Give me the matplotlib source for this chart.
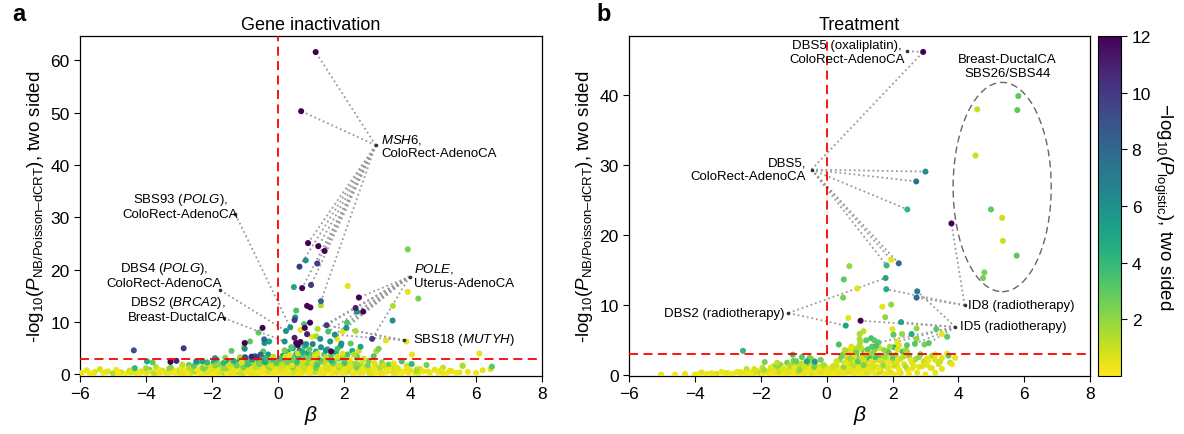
import numpy as np
import matplotlib
matplotlib.use("Agg")
import matplotlib.pyplot as plt
from matplotlib.patches import Ellipse

plt.rcParams["font.family"] = ["Liberation Sans", "DejaVu Sans"]
plt.rcParams["mathtext.fontset"] = "custom"
plt.rcParams["mathtext.rm"] = "Liberation Sans"
plt.rcParams["mathtext.it"] = "Liberation Sans:italic"
plt.rcParams["mathtext.bf"] = "Liberation Sans:bold"

# ── data: (beta, -log10 P, -log10 P_logistic) ───────────────────────────
# panel a, points clearly above the background
A_HITS = [
    (1.14, 61.6, 12), (0.70, 50.3, 12), (0.91, 25.1, 12), (1.22, 24.5, 12), (1.41, 23.6, 12),
    (0.84, 21.8, 6), (0.65, 20.6, 10), (1.19, 21.2, 10), (3.93, 23.9, 2.5), (0.48, 16.7, 5),
    (0.73, 16.5, 12), (1.00, 17.1, 10), (2.11, 16.9, 0.5), (3.93, 15.8, 0.5), (4.25, 14.5, 2.5),
    (2.45, 14.7, 12), (1.30, 14.0, 8), (0.88, 13.1, 12), (0.98, 12.8, 12), (1.30, 13.2, 1.5),
    (2.35, 12.7, 11), (2.58, 12.0, 12), (2.39, 12.0, 6), (3.48, 13.1, 1.5), (3.47, 10.3, 6),
    (0.55, 12.2, 3.5), (0.52, 10.9, 6), (0.50, 10.4, 10), (0.79, 9.6, 3.5), (0.97, 9.9, 12),
    (0.81, 8.9, 12), (0.37, 9.0, 6), (0.24, 8.3, 6), (1.47, 9.4, 10), (1.20, 8.7, 1.5),
    (2.09, 9.9, 3.5), (2.07, 8.9, 6), (2.35, 8.3, 1.5), (1.96, 8.2, 0.5), (1.52, 8.2, 3.5),
    (0.68, 8.5, 0.5), (0.88, 7.7, 11), (1.72, 7.6, 6), (2.85, 6.8, 10), (3.27, 6.5, 0.5),
    (3.89, 6.3, 0.5), (2.98, 4.5, 1.5), (3.05, 4.9, 2.5), (0.55, 6.0, 12), (0.68, 6.2, 12),
    (0.60, 5.6, 12), (0.50, 7.0, 11), (0.20, 6.3, 6), (0.40, 5.2, 3), (0.85, 5.8, 6),
    (1.03, 7.2, 0.5), (1.16, 7.3, 1.5), (1.28, 6.8, 6), (1.58, 6.3, 6), (1.79, 6.8, 0.5),
    (1.92, 5.9, 6), (2.20, 5.9, 3), (1.61, 4.4, 12), (1.45, 4.6, 6), (2.50, 5.3, 5),
    (-0.47, 8.9, 12), (-0.59, 8.0, 3), (-0.42, 6.7, 8), (-0.41, 6.0, 6), (-0.27, 6.3, 5),
    (-1.01, 6.0, 12), (-1.01, 4.9, 6), (-0.85, 6.3, 3), (-0.45, 4.4, 3), (-0.53, 3.8, 8),
    (-1.00, 3.3, 9), (-0.80, 3.4, 11), (-0.65, 3.3, 10), (-1.03, 5.2, 1.5), (-1.41, 4.5, 3),
    (-1.91, 3.1, 6), (-2.48, 2.5, 6), (-2.30, 2.5, 5), (-2.15, 2.3, 4), (-4.37, 4.6, 9),
    (-2.86, 5.0, 10), (-3.97, 2.5, 5), (-3.80, 2.3, 3), (-3.26, 2.4, 12), (-3.08, 2.6, 11),
    (-4.34, 1.2, 4), (6.10, 4.0, 0.5), (4.06, 3.8, 0.5), (5.59, 1.7, 1.5), (6.48, 1.5, 3),
    (6.44, 1.0, 0.5), (4.92, 0.7, 0.5), (5.20, 0.7, 0.5), (4.20, 0.6, 1.5),
]
# panel a, background band under the threshold
A_BAND = [
    (-5.95, 0.3, 0.3), (-5.8, 0.8, 0.5), (-5.7, 0.2, 0.2), (-5.55, 0.5, 0.6), (-5.4, 1.0, 0.8),
    (-5.3, 0.3, 0.2), (-5.15, 0.6, 0.4), (-5.0, 0.2, 1.5), (-4.9, 0.9, 0.3), (-4.75, 0.4, 0.7),
    (-4.6, 0.1, 0.2), (-4.5, 0.7, 1.0), (-4.3, 0.3, 0.4), (-4.15, 0.6, 0.5), (-4.0, 0.2, 0.3),
    (-3.9, 0.9, 2.5), (-3.8, 0.4, 0.6), (-3.7, 1.4, 1.2), (-3.6, 0.2, 0.2), (-3.5, 0.7, 0.8),
    (-3.4, 0.3, 0.3), (-3.3, 1.1, 2.0), (-3.2, 0.5, 0.5), (-3.1, 0.2, 0.2), (-3.0, 0.8, 1.5),
    (-2.9, 1.5, 0.4), (-2.85, 0.3, 0.7), (-2.8, 0.6, 0.3), (-2.7, 1.8, 3.0), (-2.65, 0.2, 0.5),
    (-2.6, 1.0, 1.0), (-2.5, 0.4, 0.2), (-2.45, 2.2, 2.5), (-2.4, 0.8, 0.6), (-2.3, 1.3, 1.8),
    (-2.25, 0.3, 0.3), (-2.2, 0.6, 0.9), (-2.1, 1.6, 3.5), (-2.05, 0.2, 0.2), (-2.0, 0.9, 0.5),
    (-1.95, 2.4, 4.5), (-1.9, 0.5, 1.2), (-1.85, 1.2, 0.7), (-1.8, 0.2, 0.3), (-1.75, 1.9, 2.0),
    (-1.7, 0.7, 0.4), (-1.65, 0.3, 1.5), (-1.6, 1.4, 0.9), (-1.55, 2.6, 5.0), (-1.5, 0.6, 0.3),
    (-1.5, 1.0, 2.5), (-1.45, 0.3, 0.5), (-1.4, 1.7, 1.3), (-1.35, 0.9, 0.4), (-1.3, 2.3, 3.0),
    (-1.3, 0.2, 0.2), (-1.25, 1.2, 0.8), (-1.2, 0.5, 1.8), (-1.15, 2.8, 5.5), (-1.1, 1.5, 0.6),
    (-1.1, 0.8, 0.3), (-1.05, 0.2, 1.0), (-1.0, 2.0, 2.2), (-1.0, 1.1, 0.5), (-0.95, 0.5, 0.2),
    (-0.9, 2.6, 4.0), (-0.9, 1.6, 1.5), (-0.85, 0.3, 0.4), (-0.8, 1.0, 0.7), (-0.8, 2.2, 3.2),
    (-0.75, 0.6, 0.3), (-0.7, 1.8, 1.1), (-0.7, 3.5, 6.5), (-0.65, 0.2, 0.5), (-0.65, 1.3, 2.0),
    (-0.6, 2.7, 3.8), (-0.6, 0.8, 0.2), (-0.55, 1.6, 0.9), (-0.5, 0.4, 0.4), (-0.5, 2.3, 2.8),
    (-0.45, 1.1, 1.4), (-0.45, 3.2, 5.0), (-0.4, 0.6, 0.3), (-0.4, 1.9, 0.6), (-0.35, 2.6, 3.5),
    (-0.35, 0.2, 0.2), (-0.3, 1.4, 1.7), (-0.3, 3.8, 6.0), (-0.25, 0.8, 0.5), (-0.25, 2.1, 2.4),
    (-0.2, 0.4, 0.3), (-0.2, 1.6, 1.0), (-0.15, 2.9, 4.2), (-0.15, 1.0, 0.6), (-0.1, 0.3, 0.2),
    (-0.1, 2.0, 2.0), (-0.05, 1.2, 0.8), (-0.05, 0.6, 0.4), (0.05, 0.4, 0.3), (0.05, 1.5, 1.2),
    (0.1, 2.5, 3.0), (0.1, 0.9, 0.5), (0.15, 3.6, 5.5), (0.15, 0.2, 0.2), (0.2, 1.8, 1.6),
    (0.2, 1.1, 0.7), (0.25, 2.9, 2.6), (0.25, 0.5, 0.3), (0.3, 4.3, 4.5), (0.3, 1.4, 0.9),
    (0.35, 0.8, 0.4), (0.35, 2.2, 1.9), (0.4, 3.3, 3.6), (0.4, 0.3, 0.2), (0.45, 1.7, 1.1),
    (0.45, 5.0, 5.0), (0.5, 1.0, 0.6), (0.5, 2.6, 2.2), (0.55, 0.4, 0.3), (0.55, 3.9, 4.2),
    (0.6, 1.9, 1.4), (0.6, 0.7, 0.5), (0.65, 2.8, 0.8), (0.65, 4.6, 6.5), (0.7, 1.3, 0.9),
    (0.7, 0.2, 0.2), (0.75, 3.4, 3.0), (0.75, 2.1, 1.6), (0.8, 0.9, 0.4), (0.8, 5.4, 4.0),
    (0.85, 1.6, 0.7), (0.85, 3.0, 2.4), (0.9, 0.5, 0.3), (0.9, 4.1, 5.2), (0.95, 2.4, 1.8),
    (0.95, 1.1, 0.6), (1.0, 3.7, 3.4), (1.0, 0.3, 0.2), (1.05, 1.8, 1.0), (1.05, 5.8, 7.0),
    (1.1, 2.7, 2.0), (1.1, 0.8, 0.5), (1.15, 4.4, 4.6), (1.2, 1.4, 0.8), (1.2, 3.2, 2.8),
    (1.25, 0.5, 0.3), (1.3, 2.3, 1.5), (1.3, 5.2, 5.8), (1.35, 1.0, 0.6), (1.4, 3.8, 3.3),
    (1.4, 0.2, 0.4), (1.45, 1.9, 1.2), (1.5, 4.8, 4.2), (1.5, 2.9, 2.1), (1.55, 0.7, 0.5),
    (1.6, 1.5, 0.9), (1.6, 3.5, 3.0), (1.65, 0.3, 0.3), (1.7, 2.4, 1.7), (1.75, 4.2, 5.0),
    (1.8, 1.1, 0.7), (1.85, 3.0, 2.5), (1.9, 0.6, 0.4), (1.9, 5.5, 6.0), (1.95, 1.8, 1.3),
    (2.0, 2.7, 2.2), (2.05, 0.4, 0.3), (2.1, 3.8, 3.6), (2.1, 1.3, 0.9), (2.15, 0.9, 0.5),
    (2.2, 2.2, 1.8), (2.25, 4.5, 4.8), (2.3, 1.6, 1.1), (2.35, 0.5, 0.3), (2.4, 3.2, 2.9),
    (2.45, 1.0, 0.7), (2.5, 2.0, 1.6), (2.55, 0.3, 0.2), (2.65, 1.4, 0.9), (2.7, 0.7, 0.4),
    (2.75, 2.6, 2.3), (2.8, 1.0, 0.6), (2.85, 0.2, 0.3), (2.9, 3.5, 3.2), (2.95, 1.7, 1.2),
    (3.0, 0.5, 0.4), (3.1, 1.2, 0.8), (3.15, 2.3, 2.0), (3.2, 0.3, 0.3), (3.3, 0.9, 0.5),
    (3.35, 1.9, 2.8), (3.45, 0.6, 0.4), (3.5, 1.4, 1.0), (3.6, 0.2, 0.2), (3.65, 1.0, 0.7),
    (3.75, 2.5, 3.5), (3.8, 0.5, 0.3), (3.9, 1.6, 1.2), (4.0, 0.8, 0.5), (4.05, 2.0, 4.0),
    (4.15, 0.3, 0.2), (4.3, 1.1, 0.6), (4.4, 0.6, 0.4), (4.5, 1.8, 2.5), (4.6, 0.3, 0.3),
    (4.75, 0.9, 0.5), (4.85, 0.4, 0.2), (5.0, 1.3, 1.0), (5.1, 0.2, 0.3), (5.25, 0.7, 0.4),
    (5.4, 0.3, 0.2), (5.6, 1.6, 0.4), (5.75, 0.5, 0.3), (6.0, 0.3, 0.2), (6.2, 0.8, 0.5),
]
# panel a, extra fill of the dense band
A_FILL = [
    (-5.6, 0.1, 0.3), (-5.2, 0.5, 0.5), (-4.85, 0.15, 0.2), (-4.45, 0.35, 0.6), (-4.2, 0.05, 0.3),
    (-3.95, 0.55, 0.4), (-3.75, 0.15, 1.2), (-3.55, 0.45, 0.3), (-3.35, 0.1, 0.5), (-3.15, 0.7, 0.2),
    (-2.95, 0.15, 0.6), (-2.75, 0.35, 0.3), (-2.55, 0.6, 1.5), (-2.35, 0.1, 0.2), (-2.15, 0.4, 0.5),
    (-1.95, 0.1, 0.3), (-1.75, 0.5, 0.8), (-1.55, 0.15, 0.2), (-1.35, 0.5, 0.4), (-1.15, 0.3, 1.0),
    (-0.95, 0.75, 0.3), (-0.75, 0.15, 0.5), (-0.55, 0.35, 0.2), (-0.3, 0.55, 0.7), (-0.12, 0.1, 0.3),
    (0.12, 0.6, 0.4), (0.3, 0.15, 0.2), (0.48, 0.35, 0.8), (0.62, 0.1, 0.3), (0.78, 0.5, 0.5),
    (0.95, 0.2, 0.2), (1.12, 0.45, 1.1), (1.28, 0.15, 0.3), (1.45, 0.55, 0.4), (1.62, 0.1, 0.2),
    (1.78, 0.4, 0.6), (1.95, 0.2, 0.3), (2.12, 0.55, 0.9), (2.28, 0.1, 0.2), (2.45, 0.35, 0.4),
    (2.62, 0.6, 0.3), (2.78, 0.15, 0.7), (2.95, 0.35, 0.2), (3.12, 0.1, 0.4), (3.3, 0.5, 0.3),
    (3.5, 0.25, 0.6), (3.7, 0.1, 0.2), (3.95, 0.3, 0.4), (4.25, 0.15, 0.3), (4.55, 0.55, 0.5),
    (5.0, 0.1, 0.2), (5.5, 0.4, 0.4),
    (-4.4, 0.9, 0.6), (-4.0, 1.2, 1.8), (-3.6, 0.85, 0.4), (-3.25, 1.3, 2.2), (-2.95, 1.0, 0.5),
    (-2.7, 1.25, 1.3), (-2.45, 0.95, 0.3), (-2.25, 1.15, 2.4), (-2.05, 1.4, 0.7), (-1.85, 0.9, 0.4),
    (-1.65, 1.15, 1.9), (-1.45, 1.35, 0.6), (-1.25, 0.95, 0.3), (-1.05, 1.4, 2.6), (-0.85, 1.05, 0.5),
    (-0.65, 1.5, 1.2), (-0.45, 0.95, 0.3), (-0.25, 1.3, 2.0), (-0.08, 0.9, 0.4), (0.1, 1.3, 0.8),
    (0.3, 1.0, 0.3), (0.45, 1.35, 2.3), (0.62, 0.95, 0.5), (0.8, 1.3, 1.0), (0.98, 1.0, 0.3),
    (1.15, 1.25, 2.7), (1.32, 0.9, 0.4), (1.5, 1.3, 0.7), (1.68, 1.05, 0.3), (1.85, 1.4, 1.6),
    (2.02, 0.9, 0.4), (2.2, 1.2, 0.6), (2.38, 1.35, 2.5), (2.55, 0.9, 0.3), (2.72, 1.2, 0.8),
    (2.9, 1.0, 0.4), (3.1, 1.35, 1.4), (3.35, 0.9, 0.3), (3.6, 1.3, 0.6), (3.9, 1.1, 0.4),
    (4.2, 0.95, 1.2),
    (-2.9, 1.9, 1.2), (-2.55, 1.65, 3.0), (-2.2, 2.0, 0.8), (-1.9, 1.7, 2.2), (-1.65, 2.2, 4.2),
    (-1.45, 1.95, 1.0), (-1.25, 1.7, 2.8), (-1.1, 2.3, 0.7), (-0.92, 1.9, 3.6), (-0.75, 2.45, 1.3),
    (-0.58, 2.0, 2.4), (-0.4, 2.35, 4.8), (-0.22, 1.7, 0.9), (-0.05, 2.2, 3.0), (0.12, 1.9, 1.1),
    (0.28, 2.4, 2.6), (0.42, 1.75, 0.6), (0.58, 2.3, 3.8), (0.72, 1.8, 1.0), (0.88, 2.2, 2.2),
    (1.02, 2.5, 0.7), (1.18, 1.8, 3.2), (1.35, 2.5, 1.4), (1.52, 1.7, 0.6), (1.68, 2.1, 2.6),
    (1.85, 1.75, 0.9), (2.02, 2.2, 3.4), (2.18, 1.7, 0.5), (2.35, 2.1, 1.8), (2.55, 2.5, 0.8),
    (2.72, 1.8, 2.4), (2.92, 2.2, 0.6), (3.2, 1.7, 1.0), (3.5, 2.1, 0.5),
    (-1.85, 2.8, 3.2), (-1.6, 3.2, 2.2), (-1.35, 2.6, 4.6), (-1.15, 3.3, 1.6), (-0.95, 3.0, 3.4),
    (-0.78, 2.8, 5.2), (-0.55, 3.3, 2.0), (-0.35, 3.0, 4.0), (-0.15, 3.4, 1.2), (0.05, 3.1, 3.6),
    (0.22, 3.4, 0.8), (0.4, 2.8, 2.8), (0.6, 3.3, 4.4), (0.78, 2.6, 1.0), (0.95, 3.1, 2.4),
    (1.12, 3.6, 0.6), (1.28, 2.7, 3.0), (1.45, 3.3, 1.2), (1.62, 2.6, 4.2), (1.8, 3.4, 0.8),
    (1.98, 3.2, 2.0), (2.18, 2.8, 0.5), (2.38, 3.6, 2.6), (2.6, 3.0, 0.7),
    (0.2, 4.6, 2.4), (0.6, 4.0, 1.0), (0.95, 4.8, 3.0), (1.2, 4.0, 0.7), (1.6, 4.3, 2.2),
    (1.95, 4.0, 0.6), (2.3, 3.8, 1.4), (0.35, 3.7, 0.5), (1.8, 4.9, 3.6), (2.45, 4.5, 0.8),
    (0.75, 4.3, 4.6),
]

# panel b
B_HITS = [
    (2.93, 46.2, 12), (3.00, 29.1, 6), (2.72, 27.7, 7.5), (2.45, 23.7, 4), (3.79, 21.7, 12),
    (5.82, 39.9, 3), (4.57, 38.0, 1), (5.79, 37.9, 3), (4.52, 31.4, 1), (4.99, 23.7, 3),
    (5.33, 22.5, 1), (5.35, 19.2, 1), (5.77, 17.1, 3), (4.79, 14.7, 2.5), (4.75, 13.9, 2.5),
    (0.69, 15.6, 2), (0.52, 13.7, 3), (0.50, 11.1, 2.5), (0.93, 12.4, 0.5), (1.82, 15.7, 4),
    (2.19, 16.0, 8), (1.96, 16.5, 0.5), (1.79, 13.9, 5), (1.81, 12.3, 4.5), (2.75, 12.0, 7),
    (2.73, 11.1, 8), (1.69, 9.8, 0.5), (1.96, 10.1, 2), (1.78, 8.3, 2), (0.66, 8.2, 0.5),
    (1.03, 7.8, 12), (0.58, 7.1, 5), (2.26, 7.6, 5), (2.00, 6.6, 0.5), (2.73, 6.7, 2),
    (3.33, 6.6, 3), (3.50, 5.9, 0.5), (3.66, 5.5, 3), (1.00, 5.9, 1.5), (1.00, 5.2, 1.5),
    (1.02, 4.7, 1.5), (0.99, 4.2, 1.5), (1.20, 5.0, 3), (1.45, 5.0, 3), (1.57, 4.7, 3),
    (1.25, 3.7, 3), (1.38, 4.1, 3), (1.50, 4.2, 3.5), (1.75, 3.6, 2), (0.37, 4.4, 3.5),
    (2.03, 5.8, 3), (2.29, 5.9, 2), (2.58, 5.9, 4.5), (2.73, 5.2, 2), (2.14, 4.8, 0.5),
    (2.20, 4.3, 0.5), (1.92, 4.1, 1.5), (2.44, 4.3, 3), (2.68, 4.5, 3), (2.97, 4.4, 2.5),
    (3.10, 4.6, 3), (3.30, 3.0, 0.5), (3.66, 3.1, 0.5), (3.70, 2.8, 3), (3.10, 2.2, 0.5),
    (3.15, 1.1, 0.5), (2.64, 1.4, 0.5), (-2.54, 3.5, 4), (-1.03, 2.95, 3.5), (-1.88, 1.9, 2.5),
    (-0.36, 1.95, 5.5), (-0.75, 2.6, 3), (-0.52, 2.5, 2.5), (-0.92, 2.0, 2.8), (-0.60, 2.0, 5),
]
B_BAND = [
    (-5.03, 0.1, 0.5), (-4.0, 0.1, 0.4), (-3.8, 0.4, 0.6), (-3.65, 0.2, 0.3), (-3.5, 0.3, 0.5),
    (-3.35, 0.2, 0.8), (-3.2, 0.5, 0.4), (-3.1, 0.3, 0.3), (-3.0, 0.3, 1.2), (-2.85, 0.2, 0.4),
    (-2.72, 0.5, 0.5), (-2.6, 0.2, 0.3), (-2.43, 0.9, 1.0), (-2.45, 0.3, 0.4), (-2.3, 0.4, 0.6),
    (-2.2, 0.2, 0.3), (-2.1, 0.6, 0.5), (-2.0, 0.3, 1.5), (-1.95, 1.1, 1.0), (-1.8, 0.5, 0.4),
    (-1.75, 0.2, 0.3), (-1.7, 0.8, 0.8), (-1.6, 1.3, 1.5), (-1.55, 0.4, 0.5), (-1.5, 0.9, 0.4),
    (-1.45, 0.2, 0.3), (-1.4, 1.5, 2.0), (-1.35, 0.6, 0.6), (-1.3, 1.0, 0.3), (-1.25, 0.3, 0.5),
    (-1.2, 1.8, 2.5), (-1.15, 0.7, 0.4), (-1.1, 1.2, 1.0), (-1.05, 0.4, 0.3), (-1.0, 1.6, 1.3),
    (-0.95, 0.9, 0.6), (-0.9, 0.3, 0.4), (-0.85, 1.3, 0.9), (-0.8, 0.6, 0.3), (-0.75, 1.7, 1.2),
    (-0.7, 1.0, 0.5), (-0.65, 0.3, 0.3), (-0.6, 1.4, 2.0), (-0.55, 0.7, 0.6), (-0.5, 1.9, 1.4),
    (-0.45, 1.1, 0.4), (-0.4, 0.4, 0.3), (-0.35, 1.5, 1.8), (-0.3, 0.8, 0.5), (-0.25, 1.2, 0.9),
    (-0.2, 0.4, 0.3), (-0.18, 2.2, 2.6), (-0.15, 0.9, 0.6), (-0.1, 0.3, 0.3), (-0.05, 1.3, 1.0),
    (0.0, 0.6, 0.4), (0.05, 0.2, 0.3), (0.1, 0.8, 0.5), (0.15, 0.4, 0.3), (0.2, 1.0, 0.8),
    (0.25, 0.3, 0.4), (0.3, 1.4, 1.0), (0.35, 0.6, 0.5), (0.4, 2.2, 1.8), (0.45, 1.0, 0.4),
    (0.5, 3.0, 2.2), (0.5, 0.4, 0.3), (0.55, 1.7, 1.2), (0.6, 2.6, 0.8), (0.6, 0.8, 0.5),
    (0.65, 3.5, 1.0), (0.65, 1.3, 0.4), (0.7, 2.1, 1.5), (0.7, 0.5, 0.3), (0.75, 3.2, 0.5),
    (0.75, 1.6, 0.9), (0.8, 2.6, 2.0), (0.8, 0.9, 0.4), (0.85, 3.8, 1.2), (0.85, 1.9, 0.6),
    (0.9, 0.4, 0.3), (0.9, 2.9, 3.0), (0.95, 1.3, 0.7), (0.95, 3.5, 0.5), (1.0, 2.3, 1.6),
    (1.0, 0.7, 0.4), (1.05, 1.6, 1.1), (1.1, 2.8, 2.5), (1.1, 1.0, 0.5), (1.12, 6.3, 1.2),
    (1.15, 3.4, 4.5), (1.2, 2.0, 0.8), (1.2, 0.6, 0.3), (1.25, 1.4, 0.6), (1.3, 3.0, 1.2),
    (1.3, 2.4, 4.0), (1.35, 5.3, 3.5), (1.4, 1.7, 0.9), (1.4, 0.9, 0.4), (1.45, 3.6, 2.2),
    (1.5, 2.2, 1.0), (1.55, 1.2, 0.6), (1.6, 2.8, 2.8), (1.65, 0.7, 0.4), (1.7, 1.8, 0.9),
    (1.8, 2.5, 1.2), (1.85, 1.0, 0.5), (1.9, 3.2, 2.2), (1.95, 0.5, 0.3), (2.0, 2.0, 0.8),
    (2.05, 4.0, 4.0), (2.1, 2.9, 1.5), (2.15, 1.3, 0.6), (2.25, 2.4, 1.0), (2.3, 3.4, 3.5),
    (2.35, 1.6, 0.5), (2.4, 3.6, 1.8), (2.45, 0.8, 0.4), (2.5, 2.8, 2.5), (2.6, 1.8, 1.0),
    (2.7, 2.3, 1.5), (2.8, 1.2, 0.4), (2.85, 3.0, 2.8), (2.95, 2.0, 1.0), (3.05, 1.5, 0.5),
    (3.2, 2.8, 1.6), (3.3, 2.2, 0.7), (3.4, 1.6, 1.0), (3.5, 2.5, 0.5), (3.75, 1.8, 1.2),
    (3.9, 2.5, 0.5),
]
B_FILL = [
    (-4.6, 0.1, 0.3), (-4.3, 0.2, 0.5), (-3.9, 0.15, 0.2), (-3.45, 0.1, 0.4), (-3.0, 0.15, 0.3),
    (-2.6, 0.45, 0.6), (-2.35, 0.15, 0.3), (-2.15, 0.45, 0.8), (-1.95, 0.15, 0.2), (-1.85, 0.55, 0.5),
    (-1.65, 0.3, 0.3), (-1.45, 0.55, 1.0), (-1.3, 0.15, 0.3), (-1.15, 0.4, 0.6), (-1.0, 0.1, 0.2),
    (-0.85, 0.5, 1.2), (-0.72, 0.2, 0.4), (-0.58, 0.45, 0.3), (-0.45, 0.1, 0.7), (-0.32, 0.35, 0.3),
    (-0.2, 0.6, 1.0), (-0.05, 0.25, 0.3), (0.08, 0.45, 0.5), (0.22, 0.1, 0.2), (0.38, 0.3, 0.6),
    (0.55, 0.15, 0.3), (0.68, 0.55, 0.9), (0.82, 0.2, 0.3), (0.95, 0.45, 0.5), (1.08, 0.15, 0.2),
    (1.22, 0.3, 0.7), (1.35, 0.5, 0.3), (1.5, 0.15, 0.4), (1.62, 0.45, 1.1), (1.78, 0.2, 0.3),
    (1.92, 0.4, 0.5), (2.08, 0.1, 0.2), (2.25, 0.35, 0.6), (2.5, 0.2, 0.3), (2.75, 0.4, 0.5),
    (3.0, 0.1, 0.3), (3.3, 0.35, 0.4),
    (-2.2, 0.9, 0.7), (-1.9, 0.75, 1.6), (-1.7, 1.1, 0.5), (-1.5, 1.35, 2.2), (-1.3, 0.8, 0.6),
    (-1.12, 1.45, 1.4), (-0.98, 1.05, 0.4), (-0.82, 0.8, 2.0), (-0.68, 1.3, 0.8), (-0.52, 0.95, 0.5),
    (-0.38, 1.2, 2.6), (-0.22, 0.85, 0.4), (-0.1, 1.5, 1.6), (0.05, 1.0, 0.5), (0.2, 1.35, 0.9),
    (0.38, 0.9, 0.3), (0.52, 1.2, 2.0), (0.68, 0.85, 0.5), (0.82, 1.4, 1.2), (0.98, 1.1, 0.4),
    (1.12, 1.45, 2.4), (1.28, 0.8, 0.5), (1.42, 1.25, 0.8), (1.58, 0.9, 0.3), (1.72, 1.4, 1.8),
    (1.88, 1.1, 0.5), (2.05, 1.35, 0.9), (2.2, 0.8, 0.3), (2.4, 1.25, 1.4), (2.6, 1.0, 0.4),
    (2.9, 1.3, 0.6), (3.2, 1.0, 0.3), (3.5, 0.9, 0.5),
    (-1.5, 1.8, 1.2), (-1.0, 2.1, 2.4), (-0.45, 2.3, 1.6), (0.3, 2.0, 0.8), (0.45, 2.7, 2.6),
    (0.58, 1.8, 0.5), (0.72, 2.5, 1.8), (0.85, 2.9, 0.6), (0.95, 2.0, 3.0), (1.08, 2.4, 0.9),
    (1.2, 2.9, 2.2), (1.35, 2.0, 0.5), (1.48, 2.6, 3.4), (1.62, 2.1, 0.8), (1.75, 2.7, 1.6),
    (1.88, 1.9, 0.4), (2.0, 2.5, 2.8), (2.15, 2.0, 0.7), (2.35, 2.7, 1.2), (2.55, 2.2, 0.4),
    (2.8, 2.6, 2.0), (3.05, 2.4, 0.6), (3.45, 2.0, 0.9), (3.8, 1.6, 0.4),
    (0.55, 3.6, 1.4), (0.75, 4.1, 0.6), (0.9, 3.3, 2.6), (1.05, 3.9, 1.0), (1.2, 3.3, 0.5),
    (1.4, 3.1, 2.0), (1.6, 3.9, 0.8), (1.85, 3.4, 3.0), (2.15, 3.7, 0.6), (2.45, 3.3, 1.6),
]

# labels: (text, x, y, ha, anchor_x, anchor_y, targets)
A_LABELS = [
    ("$\\mathit{MSH}$6,\nColoRect-AdenoCA", 3.12, 43.7, "left", 2.96, 43.8,
     [(1.14, 61.6), (0.70, 50.3), (0.91, 25.1), (1.22, 24.5), (1.41, 23.6), (1.19, 21.2),
      (0.65, 20.6), (1.00, 17.1), (1.30, 14.0), (0.73, 16.5)]),
    ("SBS93 ($\\mathit{POLG}$),\nColoRect-AdenoCA", -2.96, 32.3, "center", -1.29, 30.6,
     [(0.37, 9.0)]),
    ("DBS4 ($\\mathit{POLG}$),\nColoRect-AdenoCA", -3.44, 19.1, "center", -1.75, 16.1,
     [(0.24, 8.3)]),
    ("DBS2 ($\\mathit{BRCA}$2),\nBreast-DuctalCA", -3.05, 12.6, "center", -1.65, 10.8,
     [(0.20, 6.3)]),
    ("$\\mathit{POLE}$,\nUterus-AdenoCA", 4.11, 19.0, "left", 3.99, 18.7,
     [(2.45, 14.7), (2.35, 12.7), (2.58, 12.0), (2.39, 12.0), (2.09, 9.9), (1.47, 9.4),
      (1.72, 7.6), (1.20, 8.7), (2.85, 6.8), (2.07, 8.9), (1.52, 8.2)]),
    ("SBS18 ($\\mathit{MUTYH}$)", 4.09, 6.8, "left", 3.83, 6.5,
     [(1.47, 9.4), (1.72, 7.6), (2.35, 8.3)]),
]
B_LABELS = [
    ("DBS5 (oxaliplatin),\nColoRect-AdenoCA", 0.62, 46.2, "center", 2.45, 46.3,
     [(2.93, 46.2)]),
    ("DBS5,\nColoRect-AdenoCA", -0.62, 29.4, "right", -0.46, 29.4,
     [(2.93, 46.2), (3.00, 29.1), (2.72, 27.7), (2.45, 23.7), (2.19, 16.0), (1.96, 16.5),
      (1.82, 15.7)]),
    ("DBS2 (radiotherapy)", -1.27, 8.9, "right", -1.16, 8.9,
     [(1.79, 13.9), (0.58, 7.1)]),
    ("ID8 (radiotherapy)", 4.30, 10.0, "left", 4.19, 10.0,
     [(3.79, 21.7), (2.73, 11.1), (1.81, 12.3)]),
    ("ID5 (radiotherapy)", 4.05, 7.0, "left", 3.91, 6.9,
     [(2.75, 12.0), (1.03, 7.8), (2.26, 7.6), (1.57, 4.7), (2.14, 4.8), (2.68, 4.5),
      (3.10, 4.6)]),
]
ELLIPSE_B = (5.33, 26.9, 2.98, 29.9)  # centre x, centre y, width, height
THRESH = 3.0
YLABEL = "-log$_{10}$($P_{\\mathrm{NB/Poisson\u2013dCRT}}$), two sided"
CMAP = "viridis_r"
VMIN, VMAX = 0, 12

fig = plt.figure(figsize=(11.84, 4.35), dpi=100)
ax_a = fig.add_axes([0.0676, 0.1333, 0.3902, 0.782])
ax_b = fig.add_axes([0.5313, 0.1333, 0.3894, 0.782])
cax = fig.add_axes([0.9275, 0.1333, 0.0195, 0.782])


def draw(ax, band, hits, labels, ylim, yticks, title):
    kw = dict(cmap=CMAP, vmin=VMIN, vmax=VMAX, s=19, linewidths=0)
    b = np.array(band)
    ax.scatter(b[:, 0], b[:, 1], c=b[:, 2], zorder=3, **kw)
    h = np.array(hits)
    h = h[np.argsort(h[:, 2], kind="stable")]
    sc = ax.scatter(h[:, 0], h[:, 1], c=h[:, 2], zorder=3.1, **kw)
    for txt, tx, ty, ha, axx, ayy, tg in labels:
        for gx, gy in tg:
            ax.plot([axx, gx], [ayy, gy], ls=(0, (1, 1.6)), color="#9a9a9a", lw=1.3, zorder=2)
        ax.plot([axx], [ayy], "o", ms=1.6, color="#333333", zorder=4)
        ax.text(tx, ty, txt, ha=ha, va="center", multialignment=ha, fontsize=9.5,
                linespacing=1.15, zorder=5)
    ax.axhline(THRESH, color="red", ls=(0, (5, 3)), lw=1.3, zorder=4)
    ax.vlines(0, THRESH, ylim[1], color="red", linestyles=(0, (5, 3)), lw=1.3, zorder=4)
    ax.set_xlim(-6, 8); ax.set_ylim(*ylim)
    ax.set_xticks(range(-6, 9, 2))
    ax.set_xticklabels([f"\u2212{-v}" if v < 0 else str(v) for v in range(-6, 9, 2)])
    ax.set_yticks(yticks)
    ax.tick_params(labelsize=12.5, length=4, width=0.8)
    ax.set_xlabel("$\\beta$", fontsize=15, labelpad=1)
    ax.set_ylabel(YLABEL, fontsize=13.5, labelpad=3)
    ax.set_title(title, fontsize=13, pad=5)
    for s in ax.spines.values():
        s.set_linewidth(0.9)
    return sc


sc = draw(ax_a, A_BAND + A_FILL, A_HITS, A_LABELS, (-0.3, 64.7), range(0, 61, 10),
          "Gene inactivation")
draw(ax_b, B_BAND + B_FILL, B_HITS, B_LABELS, (-0.1, 48.5), range(0, 41, 10), "Treatment")

ex, ey, ew, eh = ELLIPSE_B
ax_b.add_patch(Ellipse((ex, ey), ew, eh, fill=False, ls=(0, (5, 3)), lw=1.0,
                       ec="#666666", zorder=2))
ax_b.text(ex + 0.15, 44.2, "Breast-DuctalCA\nSBS26/SBS44", ha="center", va="center",
          fontsize=9.5, linespacing=1.15)

cb = fig.colorbar(sc, cax=cax, ticks=[2, 4, 6, 8, 10, 12])
cb.ax.tick_params(labelsize=12.5, length=4, width=0.8)
cb.outline.set_linewidth(0.8)
cb.set_label("$-$log$_{10}$($P_{\\mathrm{logistic}}$), two sided", rotation=270,
             fontsize=13.5, labelpad=17)

fig.text(0.010, 0.952, "a", fontsize=17, fontweight="bold")
fig.text(0.504, 0.952, "b", fontsize=17, fontweight="bold")

fig.savefig("out.png", dpi=100)
